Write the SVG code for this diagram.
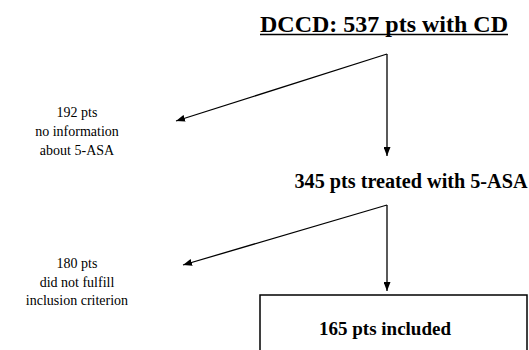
<svg xmlns="http://www.w3.org/2000/svg" width="529" height="350" viewBox="0 0 529 350">
<style>
.b{font-weight:bold}
.s{font-size:14px;text-anchor:middle}
.c{fill:none;stroke:#000;stroke-width:1.3}
</style>
<defs>
<marker id="ah" markerWidth="9" markerHeight="7" refX="9" refY="3.5" orient="auto" markerUnits="userSpaceOnUse">
<path d="M0,0 L9,3.5 L0,7 z" fill="#000"/>
</marker>
</defs>
<rect width="529" height="350" fill="#fff"/>
<g font-family="Liberation Serif, Times New Roman, serif" fill="#000">
<g id="n_dccd">
<text class="b" x="384" y="32" font-size="23" text-anchor="middle" textLength="248" lengthAdjust="spacingAndGlyphs">DCCD: 537 pts with CD</text>
<line x1="260" y1="34.5" x2="508" y2="34.5" stroke="#000" stroke-width="1.5"/>
</g>
<g id="n_noinfo">
<text class="s" x="77" y="117">192 pts</text>
<text class="s" x="77" y="136">no information</text>
<text class="s" x="77" y="155">about 5-ASA</text>
</g>
<g id="n_treated">
<text class="b" x="411" y="188" font-size="20" text-anchor="middle" textLength="233" lengthAdjust="spacingAndGlyphs">345 pts treated with 5-ASA</text>
</g>
<g id="n_excluded">
<text class="s" x="77" y="268">180 pts</text>
<text class="s" x="77" y="287">did not fulfill</text>
<text class="s" x="77" y="305">inclusion criterion</text>
</g>
<g id="n_included">
<rect x="260" y="295" width="267" height="80" fill="none" stroke="#000" stroke-width="1.5"/>
<text class="b" x="385" y="335" font-size="19" text-anchor="middle">165 pts included</text>
</g>
</g>
<g id="connectors">
<path class="c" d="M387,54 L387,156" marker-end="url(#ah)"/>
<path class="c" d="M387,54 L176,121" marker-end="url(#ah)"/>
<path class="c" d="M387,205 L387,291" marker-end="url(#ah)"/>
<path class="c" d="M387,205 L183,265" marker-end="url(#ah)"/>
</g>
</svg>
